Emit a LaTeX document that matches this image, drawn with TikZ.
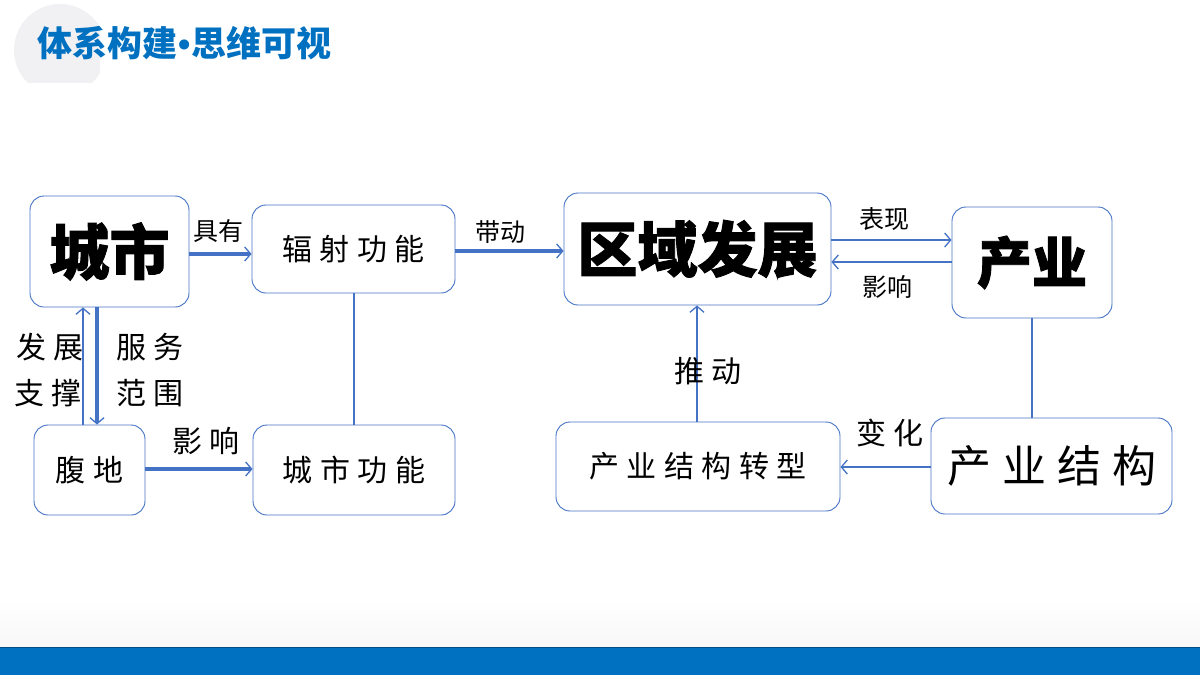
\documentclass[tikz,border=0pt]{standalone}
\usepackage{fontspec}
\usetikzlibrary{arrows.meta}
\newfontfamily\cjk{Noto Sans CJK SC}
\newfontfamily\cjkheavy{Noto Sans CJK SC}[BoldFeatures={FakeBold=1.5}]
\newfontfamily\cjksp{Noto Sans CJK SC}[LetterSpace=25]
\newfontfamily\latinsans{Liberation Sans}
\definecolor{boxblue}{HTML}{4472C4}
\definecolor{titleblue}{HTML}{0070C0}
\newcommand{\tbul}{{\latinsans\bfseries\hspace{1pt}•\hspace{1pt}}}
\newcommand{\ttext}{体系构建\tbul 思维可视}
\tikzset{
  box/.style={draw=boxblue, line width=0.9pt, rounded corners=14pt, inner sep=0pt, fill=white},
  big/.style={font=\cjkheavy\bfseries\fontsize{60}{64}\selectfont},
  mid/.style={font=\cjksp\fontsize{30}{34}\selectfont},
  lab/.style={font=\cjk\fontsize{25}{28}\selectfont, inner sep=0pt},
  labb/.style={font=\cjksp\fontsize{30}{36}\selectfont, inner sep=0pt, align=center},
  thick arrow/.style={draw=boxblue, line width=3.2pt, -{Straight Barb[length=6pt,width=14pt,line width=1.3pt]}},
  thin arrow/.style={draw=boxblue, line width=1.3pt, -{Straight Barb[length=6pt,width=14pt,line width=1.3pt]}},
  plain/.style={draw=boxblue, line width=1.1pt}
}
\begin{document}
\begin{tikzpicture}[x=1pt,y=-1pt]
\useasboundingbox (0,0) rectangle (1200,675);
\fill[white] (0,0) rectangle (1200,675);
% header decoration
\begin{scope}
\clip (0,0) rectangle (100,82);
\fill[blue!8!gray!10] (60,50) circle (46);
\end{scope}
\node[anchor=west, inner sep=0pt, font=\cjk\bfseries\fontsize{35}{38}\selectfont, text=titleblue] (title) at (37,43.5) {\ttext};
% bottom bar
\shade[top color=white, bottom color=gray!6] (0,600) rectangle (1200,647);
\fill[titleblue] (0,647) rectangle (1200,675);
\draw[titleblue!70!black, line width=0.8pt] (0,647) -- (1200,647);

% boxes
\node[box, minimum width=159pt, minimum height=111pt, big] (cs) at (109.5,251.5) {城市};
\node[box, minimum width=203pt, minimum height=88pt, mid] (fs) at (353.5,249) {辐射功能};
\node[box, minimum width=267pt, minimum height=112pt, big] (qy) at (697.5,249) {区域发展};
\node[box, minimum width=160pt, minimum height=111pt, big, font=\cjkheavy\bfseries\fontsize{55}{58}\selectfont] (cy) at (1032,262.5) {产业};
\node[box, minimum width=111pt, minimum height=90pt, mid] (fd) at (89.5,470) {腹地};
\node[box, minimum width=202pt, minimum height=90pt, mid] (csgn) at (354,470) {城市功能};
\node[box, minimum width=284pt, minimum height=89pt, mid] (zx) at (698,466.5) {产业结构转型};
\node[box, minimum width=241pt, minimum height=96pt, font=\cjksp\fontsize{44}{48}\selectfont] (jg) at (1051.5,466) {产业结构};

% helper coordinates
\coordinate (h254) at (0,254);
\coordinate (h251) at (0,251);
\coordinate (h240) at (0,240);
\coordinate (h262) at (0,262);
\coordinate (h469) at (0,469);
\coordinate (h467) at (0,467);
\coordinate (v83) at (83,0);
\coordinate (v97) at (97,0);
\coordinate (v354) at (354,0);
\coordinate (v697) at (697,0);
\coordinate (v1032) at (1032,0);

% connectors
\draw[thick arrow] (cs.east |- h254) -- (fs.west |- h254);
\draw[thick arrow] (fs.east |- h251) -- (qy.west |- h251);
\draw[thin arrow] (qy.east |- h240) -- (cy.west |- h240);
\draw[thin arrow] (cy.west |- h262) -- (qy.east |- h262);
\draw[thin arrow] (v83 |- fd.north) -- (v83 |- cs.south);
\draw[thick arrow] (v97 |- cs.south) -- (v97 |- fd.north);
\draw[thick arrow] (fd.east |- h469) -- (csgn.west |- h469);
\draw[plain] (v354 |- fs.south) -- (v354 |- csgn.north);
\draw[thin arrow] (v697 |- zx.north) -- (v697 |- qy.south);
\draw[thin arrow] (jg.west |- h467) -- (zx.east |- h467);
\draw[plain] (v1032 |- cy.south) -- (v1032 |- jg.north);

% labels
\node[lab] (l1) at (218,231) {具有};
\node[lab] (l2) at (500,232) {带动};
\node[lab] (l3) at (884,219) {表现};
\node[lab] (l4) at (887,287) {影响};
\node[labb] (l5) at (50,347) {发展};
\node[labb] (l6) at (48,393) {支撑};
\node[labb] (l7) at (150,347) {服务};
\node[labb] (l8) at (150,393) {范围};
\node[labb] (l9) at (206,441) {影响};
\node[labb] (l10) at (708,371) {推动};
\node[labb] (l11) at (890,433) {变化};
\end{tikzpicture}
\end{document}
